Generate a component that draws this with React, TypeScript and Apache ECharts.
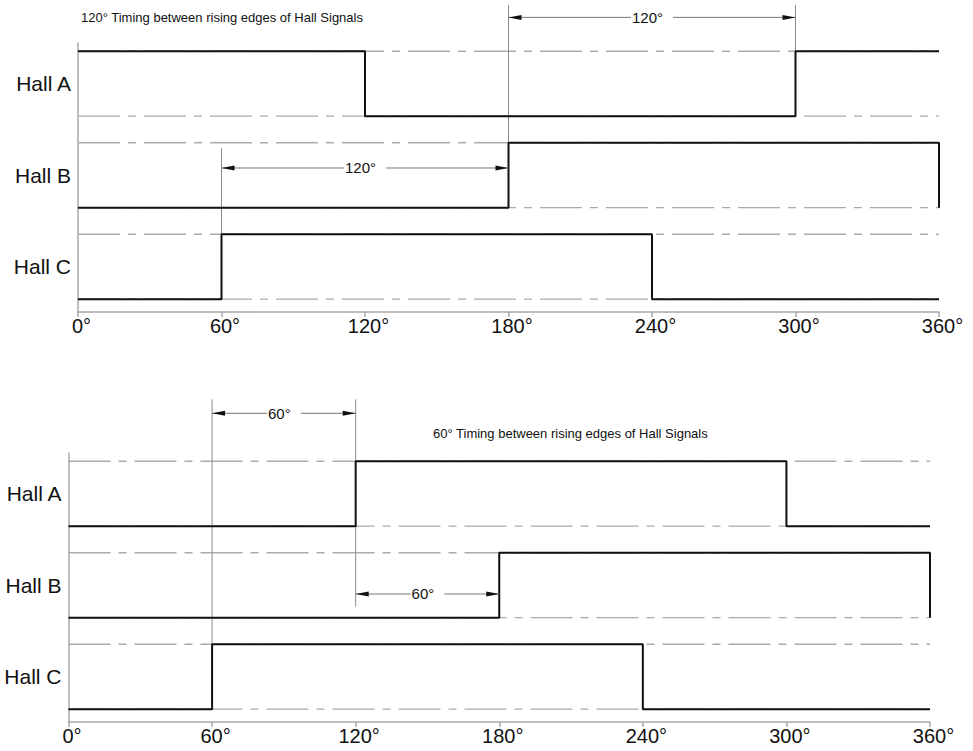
import React, { useEffect, useRef } from "react";
import * as echarts from "echarts";

// ---------- data ----------
const hallNames = ["Hall A", "Hall B", "Hall C"];
const sectorEdges = [0, 60, 120, 180, 240, 300, 360];
// logic state of each hall in each 60° sector (0° … 360°)
const top120A = [1, 1, 0, 0, 0, 1];
const top120B = [0, 0, 0, 1, 1, 1];
const top120C = [0, 1, 1, 1, 0, 0];
const bot60A = [0, 0, 1, 1, 1, 0];
const bot60B = [0, 0, 0, 1, 1, 1];
const bot60C = [0, 1, 1, 1, 0, 0];
const closeAtEnd = [false, true, false];
const titleTop = "120° Timing between rising edges of Hall Signals";
const titleBottom = "60° Timing between rising edges of Hall Signals";
// dimension annotations: [from°, to°]
const dimsTop = [[180, 300], [60, 180]];
const dimsTopLabels = ["120°", "120°"];
const dimsBottom = [[60, 120], [120, 180]];
const dimsBottomLabels = ["60°", "60°"];

// ---------- layout ----------
const FONT = 'Arial, "Liberation Sans", sans-serif';
const LOW = 0.14;
const HIGH = 0.85;
const Y_MAX = 2.94;
const dimsTopY = [3.22, 1.574];
const dimsBottomY = [3.374, 1.399];
// vertical extension lines: [deg, yFrom, yTo]
const vTop = [[180, 3.355, 1.85], [300, 3.355, 2.845], [60, 1.79, 0.85]];
const vBottom = [[60, 3.527, 0.85], [120, 3.527, 1.26]];

function signalPoints(states: number[], row: number, close: boolean) {
  const pts: number[][] = [];
  states.forEach((s, i) => {
    const y = row + (s ? HIGH : LOW);
    pts.push([sectorEdges[i], y], [sectorEdges[i + 1], y]);
  });
  if (close) pts.push([360, row + LOW]);
  return pts;
}

function panelSeries(p: number, states: number[][], dims: number[][], dimY: number[], dimLabels: string[], vlines: number[][]) {
  const s: any[] = [];
  // dash-dot reference levels
  for (let r = 0; r < 3; r++) {
    [LOW, HIGH].forEach((lv) => {
      s.push({
        type: "line",
        xAxisIndex: p,
        yAxisIndex: p,
        data: [[0, r + lv], [360, r + lv]],
        symbol: "none",
        silent: true,
        z: 1,
        lineStyle: { color: "#ababab", width: 1.3, type: [42, 8, 8, 8] },
      });
    });
  }
  // vertical extension lines
  s.push({
    type: "custom",
    xAxisIndex: p,
    yAxisIndex: p,
    clip: false,
    silent: true,
    z: 2,
    data: vlines,
    renderItem: (params: any, api: any) => {
      const a = api.coord([api.value(0), api.value(1)]);
      const b = api.coord([api.value(0), api.value(2)]);
      return {
        type: "line",
        shape: { x1: a[0], y1: a[1], x2: b[0], y2: b[1] },
        style: { stroke: "#8c8c8c", lineWidth: 1 },
      };
    },
  });
  // signals (rows: A=2, B=1, C=0)
  states.forEach((st, i) => {
    const row = 2 - i;
    s.push({
      type: "line",
      xAxisIndex: p,
      yAxisIndex: p,
      data: signalPoints(st, row, closeAtEnd[i]),
      symbol: "none",
      silent: true,
      z: 3,
      lineStyle: { color: "#111", width: 2 },
    });
  });
  // dimension arrows
  s.push({
    type: "custom",
    xAxisIndex: p,
    yAxisIndex: p,
    clip: false,
    silent: true,
    z: 4,
    data: dims.map((d, i) => [d[0], d[1], dimY[i]]),
    renderItem: (params: any, api: any) => {
      const y = api.value(2);
      const a = api.coord([api.value(0), y]);
      const b = api.coord([api.value(1), y]);
      const L = 13, W = 2.5;
      const mid = (a[0] + b[0]) / 2;
      return {
        type: "group",
        children: [
          { type: "line", shape: { x1: a[0], y1: a[1], x2: b[0], y2: b[1] }, style: { stroke: "#777", lineWidth: 1 } },
          { type: "polygon", shape: { points: [[a[0], a[1]], [a[0] + L, a[1] - W], [a[0] + L, a[1] + W]] }, style: { fill: "#111" } },
          { type: "polygon", shape: { points: [[b[0], b[1]], [b[0] - L, b[1] - W], [b[0] - L, b[1] + W]] }, style: { fill: "#111" } },
          {
            type: "text",
            x: mid,
            y: a[1],
            style: {
              text: dimLabels[params.dataIndex],
              font: "15px " + FONT,
              fill: "#111",
              align: "center",
              verticalAlign: "middle",
              backgroundColor: "#fff",
              padding: [1, 10, 1, 1],
            },
          },
        ],
      };
    },
  });
  // hall labels
  s.push({
    type: "custom",
    xAxisIndex: p,
    yAxisIndex: p,
    clip: false,
    silent: true,
    z: 5,
    data: hallNames.map((n, i) => [0, 2 - i]),
    renderItem: (params: any, api: any) => {
      const c = api.coord([0, api.value(1) + (LOW + HIGH) / 2]);
      return {
        type: "text",
        x: c[0] - 7,
        y: c[1],
        style: {
          text: hallNames[params.dataIndex],
          font: "21px " + FONT,
          fill: "#111",
          align: "right",
          verticalAlign: "middle",
        },
      };
    },
  });
  return s;
}

function xAxis(p: number) {
  return {
    type: "value",
    gridIndex: p,
    min: 0,
    max: 360,
    interval: 60,
    splitLine: { show: false },
    axisLine: { show: true, lineStyle: { color: "#a8a8a8", width: 1.5 } },
    axisTick: { show: true, length: 5, lineStyle: { color: "#a8a8a8", width: 1.5 } },
    axisLabel: {
      show: true,
      formatter: "{value}°",
      fontSize: 20,
      fontFamily: FONT,
      color: "#111",
      margin: 4,
      padding: [0, 0, 0, 7],
      showMinLabel: true,
      showMaxLabel: true,
    },
  };
}

function yAxis(p: number) {
  return {
    type: "value",
    gridIndex: p,
    min: 0,
    max: Y_MAX,
    splitLine: { show: false },
    axisLine: { show: true, onZero: false, lineStyle: { color: "#a8a8a8", width: 1.5 } },
    axisTick: { show: false },
    axisLabel: { show: false },
  };
}

export default function App() {
  const ref = useRef<HTMLDivElement>(null);
  useEffect(() => {
    if (!ref.current) return;
    const chart = echarts.init(ref.current, null, { renderer: "svg" });
    chart.setOption({
      animation: false,
      backgroundColor: "#fff",
      title: [
        { text: titleTop, left: 81, top: 11, padding: 0, textStyle: { fontSize: 13, fontWeight: "normal", color: "#111", fontFamily: FONT } },
        { text: titleBottom, left: 433, top: 427, padding: 0, textStyle: { fontSize: 13, fontWeight: "normal", color: "#111", fontFamily: FONT } },
      ],
      grid: [
        { left: 78, top: 43, width: 861, height: 269 },
        { left: 68.5, top: 453, width: 861.5, height: 269 },
      ],
      xAxis: [xAxis(0), xAxis(1)],
      yAxis: [yAxis(0), yAxis(1)],
      series: [
        ...panelSeries(0, [top120A, top120B, top120C], dimsTop, dimsTopY, dimsTopLabels, vTop),
        ...panelSeries(1, [bot60A, bot60B, bot60C], dimsBottom, dimsBottomY, dimsBottomLabels, vBottom),
      ],
    });
    return () => chart.dispose();
  }, []);
  return (
    <div
      ref={ref}
      style={{ position: "absolute", left: 0, top: 0, width: 973, height: 751, background: "#fff" }}
    />
  );
}
